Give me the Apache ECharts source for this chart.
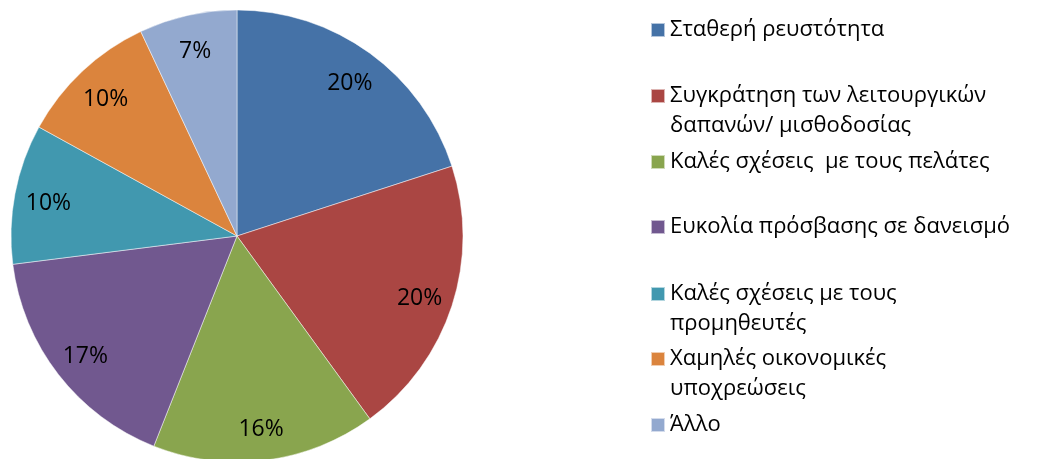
<!DOCTYPE html>
<html>
<head>
<meta charset="utf-8">
<script src="https://cdn.jsdelivr.net/npm/echarts@6/dist/echarts.min.js"></script>
<style>
  html, body { margin: 0; padding: 0; background: #fff; }
  #chart { width: 1039px; height: 459px; }
</style>
</head>
<body>
<div id="chart"></div>
<script>
// categories (legend names) and shares in %
var categories = [
  'Σταθερή ρευστότητα',
  'Συγκράτηση των λειτουργικών δαπανών/ μισθοδοσίας',
  'Καλές σχέσεις  με τους πελάτες',
  'Ευκολία πρόσβασης σε δανεισμό',
  'Καλές σχέσεις με τους προμηθευτές',
  'Χαμηλές οικονομικές υποχρεώσεις',
  'Άλλο'
]
var values = [20, 20, 16, 17, 10, 10, 7]
// how the legend wraps the long names
var legendText = [
  'Σταθερή ρευστότητα',
  'Συγκράτηση των λειτουργικών\nδαπανών/ μισθοδοσίας',
  'Καλές σχέσεις  με τους πελάτες',
  'Ευκολία πρόσβασης σε δανεισμό',
  'Καλές σχέσεις με τους\nπρομηθευτές',
  'Χαμηλές οικονομικές\nυποχρεώσεις',
  'Άλλο'
]
var colors = ['#4572a7', '#aa4643', '#89a54e', '#71588f', '#4198af', '#db843d', '#93a9cf']

// first-line centre of each legend entry
var legendCenters = [30, 96, 162, 227, 294, 359, 425]

var FONT = '"Open Sans", "Noto Sans", sans-serif'

var pieData = categories.map(function (name, i) {
  return { name: name, value: values[i] }
})

var legends = categories.map(function (name, i) {
  var twoLines = legendText[i].indexOf('\n') >= 0
  return {
    data: [name],
    left: 650,
    // two-line entries get an empty line on top so the marker sits on line one
    top: twoLines ? legendCenters[i] - 45 : legendCenters[i] - 15,
    padding: 0,
    itemWidth: 14,
    itemHeight: 14,
    icon: 'rect',
    selectedMode: false,
    formatter: function () { return twoLines ? ' \n' + legendText[i] : legendText[i] },
    textStyle: {
      fontFamily: FONT,
      fontSize: 22,
      lineHeight: 30,
      color: '#000'
    }
  }
})

var chart = echarts.init(document.getElementById('chart'))
chart.setOption({
  animation: false,
  color: colors,
  legend: legends,
  series: [
    {
      type: 'pie',
      center: [237, 236],
      radius: [0, 226],
      startAngle: 90,
      clockwise: true,
      silent: true,
      label: { show: false },
      labelLine: { show: false },
      itemStyle: { borderColor: 'rgba(255,255,255,0.6)', borderWidth: 0.8 },
      data: pieData
    },
    {
      // only carries the percentage labels, placed at ~84% of the radius
      type: 'pie',
      center: [237, 236],
      radius: [152, 226],
      startAngle: 90,
      clockwise: true,
      silent: true,
      itemStyle: { color: 'transparent', borderWidth: 0 },
      labelLine: { show: false },
      label: {
        show: true,
        position: 'inside',
        offset: [0, 3],
        formatter: function (p) { return p.value + '%' },
        fontFamily: FONT,
        fontSize: 23,
        color: '#000'
      },
      labelLayout: { hideOverlap: false },
      data: pieData
    }
  ]
})
</script>
</body>
</html>
